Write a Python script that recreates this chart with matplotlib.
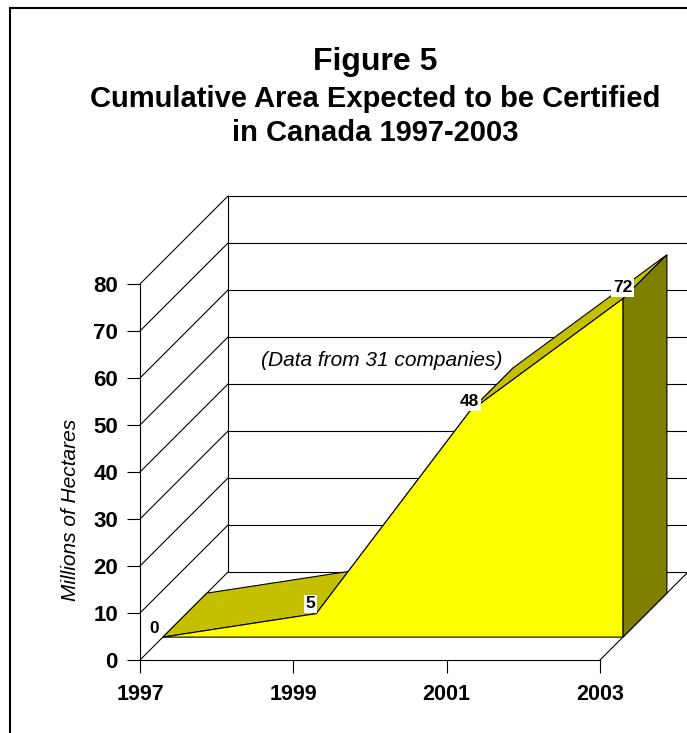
import matplotlib.pyplot as plt
from matplotlib.lines import Line2D
import numpy as np

plt.rcParams['font.family'] = ['Liberation Sans', 'DejaVu Sans']

# data
years = [1997, 1999, 2001, 2003]
area = [0, 5, 48, 72]
year_labels = ['1997', '1999', '2001', '2003']
y_ticks = [0, 10, 20, 30, 40, 50, 60, 70, 80]

# depth of the 3d box, in data units of the front plane
DX = 1.148   # years per full depth
DY = 18.72   # millions of ha per full depth
F1, F2 = 0.26, 0.76  # front/back of the area series


def proj(x, y, d):
    x = np.asarray(x, dtype=float)
    y = np.asarray(y, dtype=float)
    d = np.asarray(d, dtype=float)
    return x + d * DX, y + d * DY


fig = plt.figure(figsize=(6.87, 7.33), dpi=100)
ax = fig.add_axes([140 / 687, 73 / 733, 460 / 687, 376 / 733])
ax.set_xlim(1997, 2003)
ax.set_ylim(0, 80)
for s in ['top', 'right']:
    ax.spines[s].set_visible(False)
for s in ['left', 'bottom']:
    ax.spines[s].set_linewidth(0.8)
ax.set_xticks(years)
ax.set_xticklabels(year_labels, fontsize=15.5, fontweight='bold')
ax.set_yticks(y_ticks)
ax.set_yticklabels([str(v) for v in y_ticks], fontsize=16, fontweight='bold')
ax.tick_params(axis='both', direction='out', length=9.4, width=0.8)
ax.tick_params(axis='y', pad=6.5)
ax.tick_params(axis='x', pad=8)
ax.patch.set_visible(False)

lk = dict(color='black', lw=0.8, clip_on=False, zorder=1)
# back wall gridlines + left wall diagonals
for v in y_ticks:
    bx, by = proj([1997, 2003], [v, v], 1)
    ax.plot(bx, by, **lk)
    dx, dy = proj([1997, 1997], [v, v], [0, 1])
    ax.plot(dx, dy, **lk)
bx, by = proj([1997, 1997], [0, 80], 1)
ax.plot(bx, by, **lk)
# floor right edge
fx, fy = proj([2003, 2003], [0, 0], [0, 1])
ax.plot(fx, fy, **lk)

# 3d area series
ek = dict(edgecolor='black', lw=0.8, clip_on=False)
for i in range(len(years) - 1):
    px, py = proj([years[i], years[i + 1], years[i + 1], years[i]],
                  [area[i], area[i + 1], area[i + 1], area[i]],
                  [F1, F1, F2, F2])
    ax.fill(px, py, facecolor='#C4C000', zorder=3, **ek)
px, py = proj([years[-1]] * 4, [0, area[-1], area[-1], 0], [F1, F1, F2, F2])
ax.fill(px, py, facecolor='#808000', zorder=3, **ek)
px, py = proj([years[0]] + years + [years[-1]], [0] + area + [0], F1)
ax.fill(px, py, facecolor='#FFFF00', zorder=4, **ek)

# data labels
offs = [(-6.5, 6.5), (-4, 7), (0, 7), (0, 8)]
for x, v, o in zip(years, area, offs):
    px, py = proj(x, v, F1)
    ax.annotate(str(v), (px, py), xytext=o, textcoords='offset points',
                ha='center', va='center', fontsize=12.5, fontweight='bold',
                bbox=dict(facecolor='white', edgecolor='none', pad=1.2),
                zorder=6, annotation_clip=False)

tx, ty = proj(1999, 45, 1)
ax.text(tx, ty, '(Data from 31 companies)', fontsize=15, style='italic',
        ha='center', va='center', zorder=2)

fig.text(71 / 687, 1 - 510 / 733, 'Millions of Hectares', rotation=90,
         fontsize=15, style='italic', ha='center', va='center')

fig.text(375 / 687, 1 - 70 / 733, 'Figure 5', fontsize=23,
         fontweight='bold', ha='center', va='baseline')
fig.text(375 / 687, 1 - 107 / 733, 'Cumulative Area Expected to be Certified',
         fontsize=21, fontweight='bold', ha='center', va='baseline')
fig.text(375 / 687, 1 - 141 / 733, 'in Canada 1997-2003', fontsize=21,
         fontweight='bold', ha='center', va='baseline')

# outer frame
fig.add_artist(Line2D([9.5 / 687, 9.5 / 687], [0, 1 - 8 / 733], color='black',
                      lw=1.5, transform=fig.transFigure))
fig.add_artist(Line2D([9.5 / 687, 1], [1 - 8 / 733, 1 - 8 / 733], color='black',
                      lw=1.5, transform=fig.transFigure))

fig.savefig('out.png', dpi=100)
